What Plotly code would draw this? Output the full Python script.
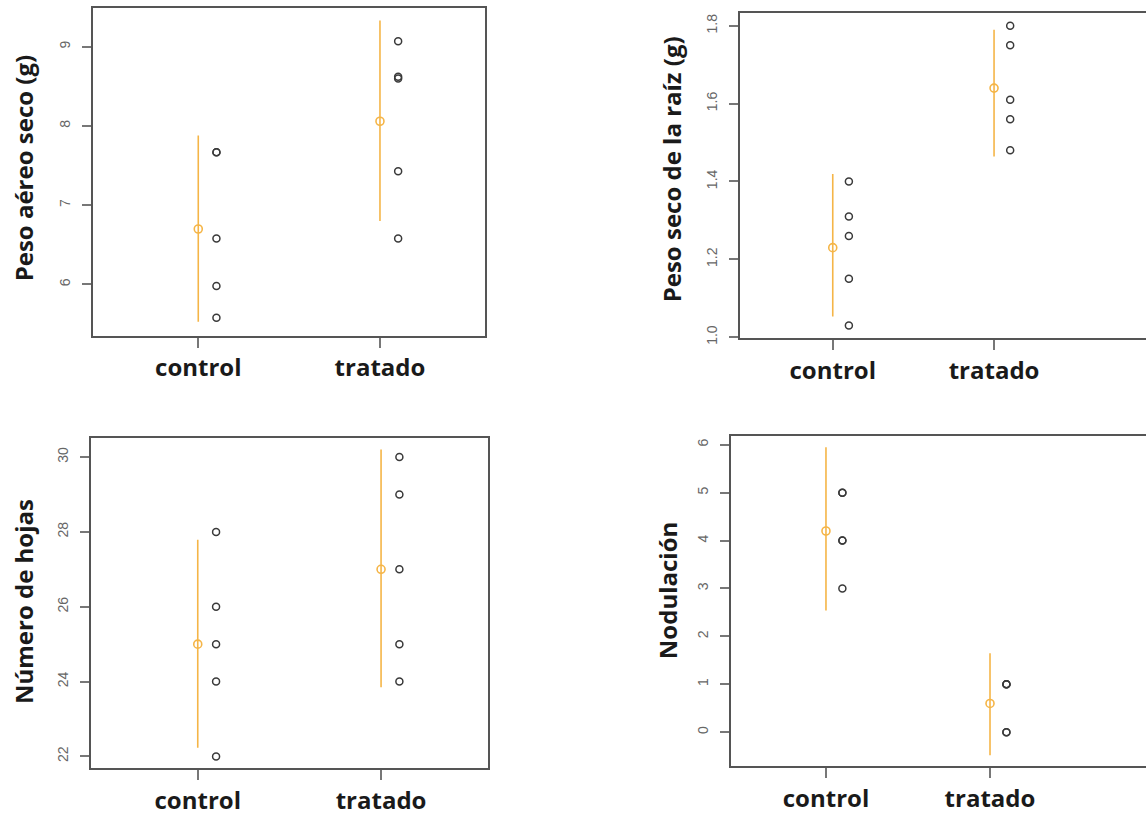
import plotly.graph_objects as go

W, H = 1146, 816
groups = ["control", "tratado"]

# Panel 1: Peso aéreo seco (g)
p1_control = [7.67, 7.67, 6.58, 5.98, 5.58]
p1_tratado = [9.07, 8.62, 8.60, 7.43, 6.58]
p1_mean = [6.70, 8.06]
p1_low = [5.53, 6.80]
p1_high = [7.88, 9.33]

# Panel 2: Peso seco de la raíz (g)
p2_control = [1.40, 1.31, 1.26, 1.15, 1.03]
p2_tratado = [1.80, 1.75, 1.61, 1.56, 1.48]
p2_mean = [1.23, 1.64]
p2_low = [1.053, 1.464]
p2_high = [1.419, 1.79]

# Panel 3: Número de hojas
p3_control = [28, 26, 25, 24, 22]
p3_tratado = [30, 29, 27, 25, 24]
p3_mean = [25, 27]
p3_low = [22.23, 23.85]
p3_high = [27.79, 30.2]

# Panel 4: Nodulación
p4_control = [5, 5, 4, 4, 3]
p4_tratado = [1, 1, 1, 0, 0]
p4_mean = [4.2, 0.6]
p4_low = [2.54, -0.48]
p4_high = [5.95, 1.65]

titles = ["Peso aéreo seco (g)", "Peso seco de la raíz (g)", "Número de hojas", "Nodulación"]

# layout (pixel geometry)
panels = [
    dict(data=(p1_control, p1_tratado, p1_mean, p1_low, p1_high), xpx=(92.7, 485), ypx=(8, 339),
         xr=(0.419, 2.578), yr=(5.354, 9.49), ticks=[6, 7, 8, 9], ticktext=["6", "7", "8", "9"],
         title_xy=(23, 170), right=False),
    dict(data=(p2_control, p2_tratado, p2_mean, p2_low, p2_high), xpx=(740, 1146), ypx=(12.7, 341.7),
         xr=(0.425, 2.942), yr=(0.997, 1.834), ticks=[1.0, 1.2, 1.4, 1.6, 1.8],
         ticktext=["1.0", "1.2", "1.4", "1.6", "1.8"], title_xy=(671, 171), right=True),
    dict(data=(p3_control, p3_tratado, p3_mean, p3_low, p3_high), xpx=(90.7, 488.3), ypx=(442.3, 776),
         xr=(0.416, 2.585), yr=(21.68, 30.51), ticks=[22, 24, 26, 28, 30],
         ticktext=["22", "24", "26", "28", "30"], title_xy=(23, 608), right=False),
    dict(data=(p4_control, p4_tratado, p4_mean, p4_low, p4_high), xpx=(731, 1146), ypx=(440, 773.3),
         xr=(0.421, 2.951), yr=(-0.70, 6.19), ticks=[0, 1, 2, 3, 4, 5, 6],
         ticktext=["0", "1", "2", "3", "4", "5", "6"], title_xy=(667, 597), right=True),
]

ORANGE = "#F5B547"
PT = "#3a3a3a"
AX = "#555555"
TICKC = "#777777"

fig = go.Figure()
annotations = []
for i, p in enumerate(panels):
    n = i + 1
    xa = "x" if n == 1 else f"x{n}"
    ya = "y" if n == 1 else f"y{n}"
    ctrl, trat, mean, low, high = p["data"]
    pos = [1, 2]
    # raw points (offset to the right of the group position)
    for g, vals in enumerate([ctrl, trat]):
        fig.add_trace(go.Scatter(
            x=[pos[g] + 0.1] * len(vals), y=vals, mode="markers", xaxis=xa, yaxis=ya,
            marker=dict(symbol="circle-open", size=7, color=PT, line=dict(width=1.5, color=PT)),
            showlegend=False, hoverinfo="y"))
    # mean with interval
    fig.add_trace(go.Scatter(
        x=pos, y=mean, mode="markers", xaxis=xa, yaxis=ya,
        marker=dict(symbol="circle-open", size=8, color=ORANGE, line=dict(width=1.6, color=ORANGE)),
        error_y=dict(type="data", symmetric=False,
                     array=[h - m for h, m in zip(high, mean)],
                     arrayminus=[m - l for l, m in zip(low, mean)],
                     color=ORANGE, thickness=1.6, width=0),
        showlegend=False))

    xd = [p["xpx"][0] / W, p["xpx"][1] / W]
    yd = [1 - p["ypx"][1] / H, 1 - p["ypx"][0] / H]
    xkey = "xaxis" if n == 1 else f"xaxis{n}"
    ykey = "yaxis" if n == 1 else f"yaxis{n}"
    fig.update_layout(**{
        xkey: dict(domain=xd, range=list(p["xr"]), anchor=ya, tickvals=pos, ticktext=groups,
                   showgrid=False, zeroline=False, showline=True, linecolor=AX, linewidth=2,
                   mirror=True, ticks="outside", ticklen=10, tickwidth=1.5, tickcolor=TICKC,
                   tickfont=dict(family="Open Sans", size=24, color="#1a1a1a", weight="bold"),
                   fixedrange=True),
        ykey: dict(domain=yd, range=list(p["yr"]), anchor=xa, tickvals=p["ticks"], ticktext=p["ticktext"],
                   showgrid=False, zeroline=False, showline=True, linecolor=AX, linewidth=2,
                   mirror=(not p["right"]), ticks="outside", ticklen=9, tickwidth=1.5, tickcolor=TICKC,
                   tickangle=-90, ticklabelstandoff=6,
                   tickfont=dict(family="Liberation Sans", size=14, color="#666666"),
                   fixedrange=True),
    })
    tx, ty = p["title_xy"]
    annotations.append(dict(text=titles[i], x=tx / W, y=1 - ty / H, xref="paper", yref="paper",
                            xanchor="center", yanchor="middle", textangle=-90, showarrow=False,
                            font=dict(family="Open Sans", size=24, color="#1a1a1a", weight="bold")))

fig.update_layout(width=W, height=H, margin=dict(l=0, r=0, t=0, b=0),
                  paper_bgcolor="white", plot_bgcolor="white", annotations=annotations,
                  showlegend=False)
fig.write_html("out.html")
